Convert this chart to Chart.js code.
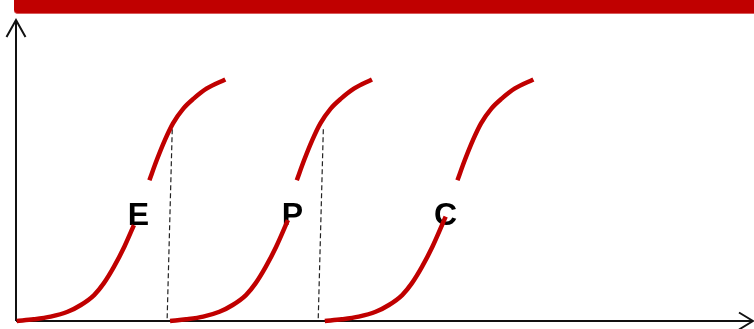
<!DOCTYPE html>
<html>
<head>
<meta charset="utf-8">
<script src="https://cdn.jsdelivr.net/npm/chart.js@4.4.0/dist/chart.umd.min.js"></script>
<style>
  body { margin: 0; background: #fff; }
  #wrap { position: relative; width: 754px; height: 329px; }
  #topBar {
    position: absolute; left: 14px; top: 0; width: 740px; height: 13px;
    background: #c00000; border-bottom: 1px solid #d85a5a;
    border-bottom-left-radius: 4px; z-index: 2;
  }
  #chart { position: absolute; left: 0; top: 0; }
</style>
</head>
<body>
<div id="wrap">
  <div id="topBar"></div>
  <canvas id="chart" width="754" height="329"></canvas>
</div>
<script>
// curve E (null = gap behind the letter)
var xE = [0.1, 2.4, 4.7, 7.0, 8.8, 10.6, 11.9, 13.3, 14.7, 16.0, 17.0, 18.1, 19.1, 20.2, 21.3, 22.7, 24.1, 25.9, 28.4];
var yE = [0, 0.7, 1.8, 3.8, 6.6, 10.7, 15.5, 22.4, 30.6, 39.5, null, 58.0, 66.3, 74.5, 81.4, 87.5, 91.6, 95.8, 99.5];

// curve P
var xP = [20.9, 23.1, 25.4, 27.6, 29.4, 31.2, 32.5, 33.9, 35.3, 36.6, 36.9, 37.5, 38.1, 39.1, 40.2, 41.3, 42.7, 44.1, 45.9, 48.3];
var yP = [0, 0.7, 1.8, 3.8, 6.6, 10.7, 15.5, 22.4, 30.6, 39.5, 41.6, null, 58.0, 66.3, 74.5, 81.4, 87.5, 91.6, 95.8, 99.5];

// curve C
var xC = [41.9, 44.2, 46.5, 48.8, 50.6, 52.4, 53.7, 55.1, 56.5, 57.8, 58.3, 59.0, 59.9, 60.9, 62.0, 63.1, 64.5, 65.9, 67.7, 70.2];
var yC = [0, 0.7, 1.8, 3.8, 6.6, 10.7, 15.5, 22.4, 30.6, 39.5, 43.0, null, 58.0, 66.3, 74.5, 81.4, 87.5, 91.6, 95.8, 99.5];

// dashed drop lines
var dash1X = [21.2, 20.5];
var dash2X = [41.7, 41.0];
var dashY = [79.0, 0];

// letters
var labelText = ['E', 'P', 'C'];
var labelX = [16.6, 37.5, 58.3];
var labelY = [39.7, 39.7, 39.7];

function pts(xs, ys) {
    return xs.map(function (x, i) { return { x: x, y: ys[i] }; });
}

var red = '#c00000';

var curveStyle = {
    borderColor: red,
    borderWidth: 4.5,
    pointRadius: 0,
    cubicInterpolationMode: 'monotone',
    spanGaps: false,
    clip: false,
    fill: false
};

var dashStyle = {
    borderColor: '#222',
    borderWidth: 1.2,
    borderDash: [5, 3],
    pointRadius: 0,
    tension: 0,
    clip: false,
    fill: false
};

var axesPlugin = {
    id: 'axesArrows',
    beforeDatasetsDraw: function (chart) {
        var c = chart.ctx, a = chart.chartArea;
        c.save();
        c.strokeStyle = '#111';
        c.lineWidth = 2;
        c.beginPath();
        c.moveTo(a.left, a.bottom);
        c.lineTo(a.left, a.top);
        c.moveTo(a.left, a.bottom);
        c.lineTo(a.right, a.bottom);
        // arrow heads
        c.moveTo(a.left - 9.5, a.top + 17);
        c.lineTo(a.left, a.top);
        c.lineTo(a.left + 9.5, a.top + 17);
        c.moveTo(a.right - 14, a.bottom - 8.5);
        c.lineTo(a.right, a.bottom);
        c.lineTo(a.right - 14, a.bottom + 8.5);
        c.stroke();

        // letters under the curves
        var xs = chart.scales.x, ys = chart.scales.y;
        c.fillStyle = '#000';
        c.font = 'bold 32px "Liberation Sans", Arial, sans-serif';
        c.textAlign = 'center';
        c.textBaseline = 'alphabetic';
        labelText.forEach(function (t, i) {
            c.fillText(t, xs.getPixelForValue(labelX[i]), ys.getPixelForValue(labelY[i]));
        });
        c.restore();
    }
};

var ctx = document.getElementById('chart').getContext('2d');
var chart = new Chart(ctx, {
    type: 'line',
    data: {
        datasets: [
            Object.assign({ label: 'E', data: pts(xE, yE) }, curveStyle),
            Object.assign({ label: 'P', data: pts(xP, yP) }, curveStyle),
            Object.assign({ label: 'C', data: pts(xC, yC) }, curveStyle),
            Object.assign({ label: 'd1', data: pts(dash1X, dashY) }, dashStyle),
            Object.assign({ label: 'd2', data: pts(dash2X, dashY) }, dashStyle)
        ]
    },
    options: {
        responsive: false,
        animation: false,
        layout: { padding: { left: 16, top: 20, right: 1, bottom: 8 } },
        scales: {
            x: { type: 'linear', min: 0, max: 100, display: false },
            y: { type: 'linear', min: 0, max: 124, display: false }
        },
        plugins: {
            legend: { display: false },
            tooltip: { enabled: false }
        }
    },
    plugins: [axesPlugin]
});
</script>
</body>
</html>
